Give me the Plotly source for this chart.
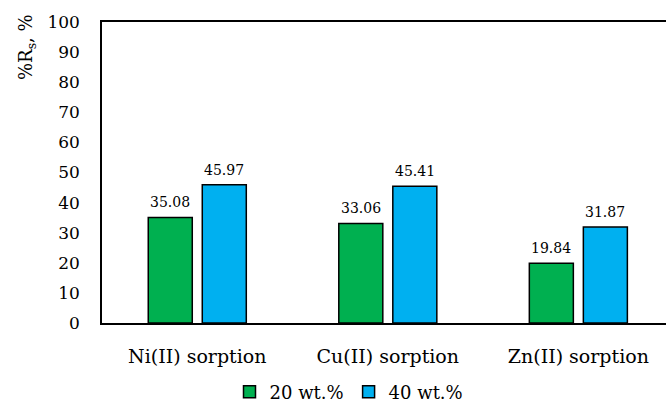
import plotly.graph_objects as go

categories = ["Ni(II) sorption", "Cu(II) sorption", "Zn(II) sorption"]
series_names = ["20 wt.%", "40 wt.%"]
values_20 = [35.08, 33.06, 19.84]
values_40 = [45.97, 45.41, 31.87]
y_ticks = [0, 10, 20, 30, 40, 50, 60, 70, 80, 90, 100]

FONT = "DejaVu Serif"
colors = ["#00B050", "#00B0F0"]

fig = go.Figure()
for name, vals, col in zip(series_names, [values_20, values_40], colors):
    fig.add_trace(go.Bar(
        x=categories, y=vals, name=name,
        marker=dict(color=col, line=dict(color="black", width=1.5)),
    ))

# data labels
for vals, shift in zip([values_20, values_40], [-27, 27]):
    for c, v in zip(categories, vals):
        fig.add_annotation(x=c, y=v, text=f"{v:.2f}", showarrow=False,
                           xshift=shift, yshift=5, yanchor="bottom",
                           font=dict(family=FONT, size=14, color="black"))

fig.add_annotation(xref="paper", yref="paper", x=(27 - 102) / 564, y=(323 - 47) / 301,
                   text="%R<sub>s</sub>, %", textangle=-90, showarrow=False,
                   xanchor="center", yanchor="middle",
                   font=dict(family=FONT, size=18, color="black"))

fig.update_layout(
    width=666, height=404,
    margin=dict(l=102, r=0, t=22, b=81, autoexpand=False),
    paper_bgcolor="white", plot_bgcolor="white",
    bargap=0.433, bargroupgap=0.185,
    showlegend=True,
    legend=dict(orientation="h", x=(349 - 102) / 564, xanchor="center",
                y=(323 - 392) / 301, yanchor="middle",
                font=dict(family=FONT, size=18, color="black"),
                itemwidth=30, traceorder="normal"),
    font=dict(family=FONT, color="black"),
)
fig.update_xaxes(range=[-0.5, 2.46], showline=True, linecolor="black", linewidth=1.5,
                 mirror=True, ticks="", ticklabelstandoff=15, automargin=False,
                 tickfont=dict(family=FONT, size=19, color="black"), showgrid=False)
fig.update_yaxes(range=[0, 100], tickvals=y_ticks, showline=True, linecolor="black",
                 linewidth=1.5, mirror=False, ticks="", ticklabelstandoff=17, automargin=False,
                 tickfont=dict(family=FONT, size=17, color="black"), showgrid=False,
                 zeroline=False)

fig.write_html("out.html", config={"displayModeBar": False},
               post_script="document.body.style.margin='0';document.body.style.overflow='hidden';")
